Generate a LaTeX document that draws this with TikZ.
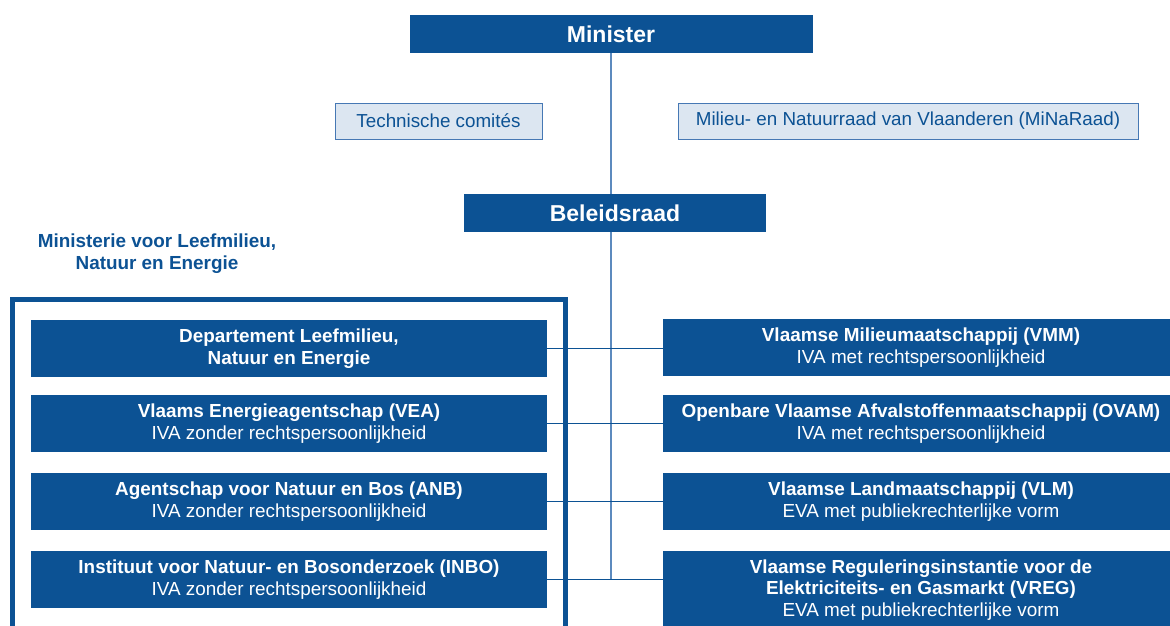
\documentclass[tikz,border=0pt]{standalone}
\usepackage{fontspec}
\setmainfont{Liberation Sans}
\definecolor{dblue}{RGB}{12,82,148}
\definecolor{lblue}{RGB}{92,138,190}
\definecolor{pale}{RGB}{220,230,241}
\definecolor{paleedge}{RGB}{70,120,180}
\begin{document}
\begin{tikzpicture}[x=1pt,y=-1pt,
  hbox/.style={fill=dblue,text=white,inner sep=0pt,align=center,font=\fontsize{23}{27}\selectfont\bfseries},
  orgbox/.style={fill=dblue,text=white,inner sep=0pt,align=center,minimum width=516pt,minimum height=57pt,font=\fontsize{18.9}{21.5}\selectfont},
  palebox/.style={fill=pale,draw=paleedge,line width=0.8pt,text=dblue,inner sep=0pt,minimum height=36pt,font=\fontsize{18.8}{22}\selectfont},
  vline/.style={draw=lblue,line width=2pt},
  hline/.style={draw=dblue,line width=1.3pt}
]
\useasboundingbox (0,0) rectangle (1170,625);
\clip (0,0) rectangle (1170,625);
% connectors first (behind boxes)
\coordinate (spineTop) at (611,53);
\coordinate (spineBot) at (611,580);
\draw[vline] (spineTop) -- (spineBot);
% header nodes
\node[hbox,minimum width=403pt,minimum height=38pt] (min) at (611,34) {Minister};
\node[palebox,minimum width=207pt] (tech) at (438.5,121) {Technische comités};
\node[palebox,minimum width=460pt] (mina) at (908,121) {Milieu- en Natuurraad van Vlaanderen (MiNaRaad)};
\node[hbox,minimum width=302pt,minimum height=38pt] (bel) at (615,213) {Beleidsraad};
\node[text=dblue,align=center,font=\fontsize{18.9}{22}\selectfont\bfseries] (mlabel) at (157,254) {Ministerie voor Leefmilieu,\\Natuur en Energie};
% left boxes
\node[orgbox] (l1) at (289,348.5) {\textbf{Departement Leefmilieu,}\\\textbf{Natuur en Energie}};
\node[orgbox] (l2) at (289,423.5) {\textbf{Vlaams Energieagentschap (VEA)}\\IVA zonder rechtspersoonlijkheid};
\node[orgbox] (l3) at (289,501.5) {\textbf{Agentschap voor Natuur en Bos (ANB)}\\IVA zonder rechtspersoonlijkheid};
\node[orgbox] (l4) at (289,579.5) {\textbf{Instituut voor Natuur- en Bosonderzoek (INBO)}\\IVA zonder rechtspersoonlijkheid};
% right boxes
\node[orgbox] (r1) at (921,347.5) {\textbf{Vlaamse Milieumaatschappij (VMM)}\\IVA met rechtspersoonlijkheid};
\node[orgbox] (r2) at (921,423.5) {\textbf{Openbare Vlaamse Afvalstoffenmaatschappij (OVAM)}\\IVA met rechtspersoonlijkheid};
\node[orgbox] (r3) at (921,501.5) {\textbf{Vlaamse Landmaatschappij (VLM)}\\EVA met publiekrechterlijke vorm};
\node[orgbox,minimum height=78pt] (r4) at (921,590) {\textbf{Vlaamse Reguleringsinstantie voor de}\\\textbf{Elektriciteits- en Gasmarkt (VREG)}\\EVA met publiekrechterlijke vorm};
% horizontal connectors
\draw[hline] (l1.east) -- (l1.east -| r1.west);
\draw[hline] (l2.east) -- (l2.east -| r2.west);
\draw[hline] (l3.east) -- (l3.east -| r3.west);
\draw[hline] (l4.east) -- (l4.east -| r4.west);
% ministry frame
\coordinate (fTL) at (12,299);
\coordinate (fBR) at (565,640);
\draw[draw=dblue,line width=5pt] (fTL) rectangle (fBR);
\end{tikzpicture}
\end{document}
